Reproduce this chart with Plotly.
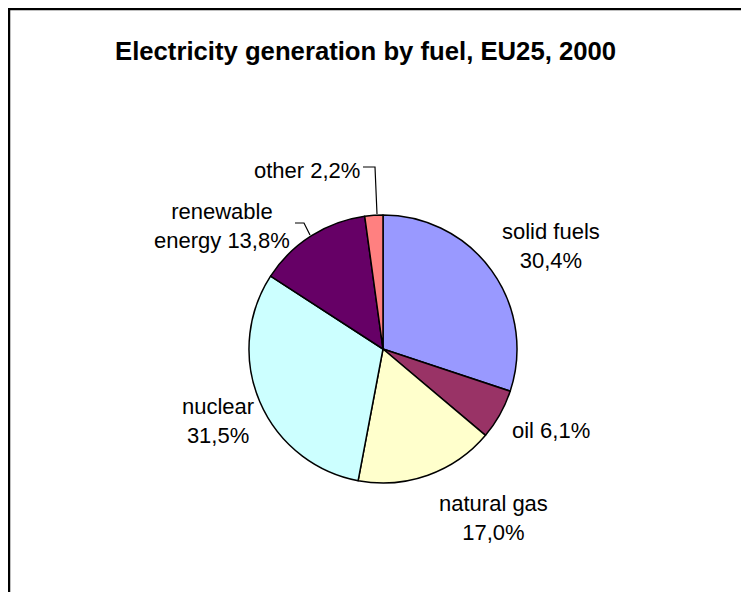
import plotly.graph_objects as go

# window offset of the plot div (page body margin)
OFF = 8
W, H = 753 - 2 * OFF - 4, 604 - 2 * OFF - 4

# data
fuels = ["solid fuels", "oil", "natural gas", "nuclear", "renewable energy", "other"]
shares = [30.4, 6.1, 17.0, 31.5, 13.8, 2.2]
colors = ["#9999FF", "#993366", "#FFFFCC", "#CCFFFF", "#660066", "#FF8080"]
title_text = "Electricity generation by fuel, EU25, 2000"

def px(x):
    return (x - OFF) / W

def py(y):
    return 1 - (y - OFF) / H

def fmt(v):
    return f"{v:.1f}".replace(".", ",") + "%"

cx, cy, r = 383, 349, 134

fig = go.Figure(go.Pie(
    labels=fuels,
    values=shares,
    sort=False,
    direction="clockwise",
    rotation=0,
    textinfo="none",
    hoverinfo="label+percent",
    marker=dict(colors=colors, line=dict(color="black", width=1.5)),
    domain=dict(x=[px(cx - r), px(cx + r)], y=[py(cy + r), py(cy - r)]),
    showlegend=False,
))

label_text = [
    f"solid fuels<br>{fmt(shares[0])}",
    f"oil {fmt(shares[1])}",
    f"natural gas<br>{fmt(shares[2])}",
    f"nuclear<br>{fmt(shares[3])}",
    f"renewable<br>energy {fmt(shares[4])}",
    f"other {fmt(shares[5])}",
]
label_pos = [(551, 246), (551, 430), (493, 518), (218, 421), (222, 226), (307, 170)]

annotations = [
    dict(text=t, x=px(x), y=py(y), xref="paper", yref="paper",
         xanchor="center", yanchor="middle", showarrow=False,
         font=dict(family="Liberation Sans, Arial, sans-serif", size=22, color="black"))
    for t, (x, y) in zip(label_text, label_pos)
]
annotations.append(dict(
    text=f"<b>{title_text}</b>", x=px(365), y=py(51), xref="paper", yref="paper",
    xanchor="center", yanchor="middle", showarrow=False,
    font=dict(family="Liberation Sans, Arial, sans-serif", size=25.7, color="black")))

def path(points):
    return "M " + " L ".join(f"{px(x)},{py(y)}" for x, y in points)

shapes = [
    dict(type="path", xref="paper", yref="paper",
         path=path([(9, 620), (9, 9), (770, 9)]),
         fillcolor="rgba(0,0,0,0)",
         line=dict(color="black", width=2.5)),
    dict(type="path", xref="paper", yref="paper",
         path=path([(363, 167), (375, 167), (377, 214)]),
         line=dict(color="black", width=1.2)),
    dict(type="path", xref="paper", yref="paper",
         path=path([(295, 223), (304, 223), (310, 235)]),
         line=dict(color="black", width=1.2)),
]

fig.update_layout(
    width=W, height=H,
    margin=dict(l=0, r=0, t=0, b=0),
    paper_bgcolor="white", plot_bgcolor="white",
    annotations=annotations,
    shapes=shapes,
)

fig.write_html("out.html")
